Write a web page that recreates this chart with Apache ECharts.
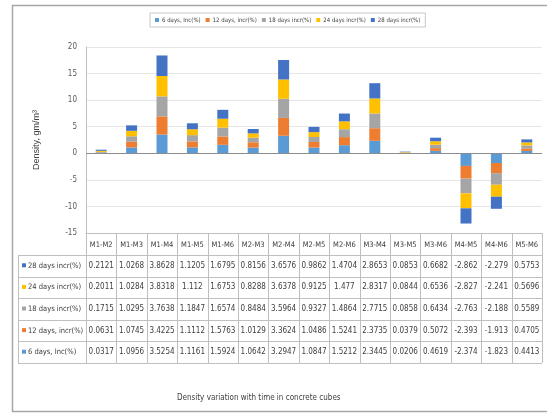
<!DOCTYPE html>
<html>
<head>
<meta charset="utf-8">
<script src="https://cdn.jsdelivr.net/npm/echarts@6/dist/echarts.min.js"></script>
<style>
  html, body { margin: 0; padding: 0; background: #fff; }
  #main { width: 547px; height: 416px; }
</style>
</head>
<body>
<div id="main"></div>
<script>
const categories = ['M1-M2', 'M1-M3', 'M1-M4', 'M1-M5', 'M1-M6', 'M2-M3', 'M2-M4', 'M2-M5',
  'M2-M6', 'M3-M4', 'M3-M5', 'M3-M6', 'M4-M5', 'M4-M6', 'M5-M6']
const seriesNames = ['6 days, Inc(%)', '12 days, incr(%)', '18 days incr(%)', '24 days incr(%)', '28 days incr(%)']
const days6 = [0.0317, 1.0956, 3.5254, 1.1161, 1.5924, 1.0642, 3.2947, 1.0847, 1.5212, 2.3445, 0.0206, 0.4619, -2.374, -1.823, 0.4413]
const days12 = [0.0631, 1.0745, 3.4225, 1.1112, 1.5763, 1.0129, 3.3624, 1.0486, 1.5241, 2.3735, 0.0379, 0.5072, -2.393, -1.913, 0.4705]
const days18 = [0.1715, 1.0295, 3.7638, 1.1847, 1.6574, 0.8484, 3.5964, 0.9327, 1.4864, 2.7715, 0.0858, 0.6434, -2.763, -2.188, 0.5589]
const days24 = [0.2011, 1.0284, 3.8318, 1.112, 1.6753, 0.8288, 3.6378, 0.9125, 1.477, 2.8317, 0.0844, 0.6536, -2.827, -2.241, 0.5696]
const days28 = [0.2121, 1.0268, 3.8628, 1.1205, 1.6795, 0.8156, 3.6576, 0.9862, 1.4704, 2.8653, 0.0853, 0.6682, -2.862, -2.279, 0.5753]
const yMin = -15
const yMax = 20
const yStep = 5

const seriesData = [days6, days12, days18, days24, days28]
const colors = ['#5B9BD5', '#ED7D31', '#A5A5A5', '#FFC000', '#4472C4']
const font = '"Liberation Sans Narrow", "DejaVu Sans Condensed", "Liberation Sans", sans-serif'

const chart = echarts.init(document.getElementById('main'))

const option = {
  animation: false,
  backgroundColor: '#fff',
  textStyle: { fontFamily: font },
  title: {
    text: 'Density variation with time in concrete cubes',
    left: 172,
    top: 389,
    textStyle: { fontSize: 8, fontWeight: 'normal', color: '#404040', fontFamily: font }
  },
  legend: {
    data: seriesNames,
    left: 150,
    top: 13,
    icon: 'rect',
    itemWidth: 4,
    itemHeight: 4,
    itemGap: 5,
    padding: [4, 5],
    borderColor: '#c8c8c8',
    borderWidth: 1,
    textStyle: { fontSize: 6, color: '#404040', fontFamily: font, padding: [0, 0, 0, -2] }
  },
  grid: { left: 86, right: 5, top: 47, bottom: 183 },
  xAxis: {
    type: 'category',
    data: categories,
    axisLine: { onZero: false, lineStyle: { color: '#bfbfbf' } },
    axisTick: { show: false },
    axisLabel: { interval: 0, margin: 8, fontSize: 7.5, color: '#404040', fontFamily: font }
  },
  yAxis: {
    type: 'value',
    min: yMin,
    max: yMax,
    interval: yStep,
    name: 'Density, gm/m³',
    nameLocation: 'middle',
    nameGap: 45,
    nameTextStyle: { fontSize: 9, color: '#404040', fontFamily: '"Liberation Sans", sans-serif' },
    axisLine: { show: true, lineStyle: { color: '#bfbfbf' } },
    axisTick: { show: false },
    axisLabel: { margin: 9, fontSize: 8, color: '#595959', fontFamily: font },
    splitLine: { lineStyle: { color: '#e6e6e6' } }
  },
  series: seriesNames.map((name, i) => ({
    name,
    type: 'bar',
    stack: 'total',
    barWidth: 11,
    data: seriesData[i],
    itemStyle: { color: colors[i] },
    markLine: i === 0 ? {
      silent: true,
      symbol: 'none',
      label: { show: false },
      lineStyle: { color: '#8c8c8c', type: 'solid', width: 1 },
      data: [{ yAxis: 0 }]
    } : undefined
  }))
}

chart.setOption(option)

// data table under the plot, aligned to the category columns
const x0 = chart.convertToPixel({ xAxisIndex: 0 }, categories[0])
const x1 = chart.convertToPixel({ xAxisIndex: 0 }, categories[1])
const colW = x1 - x0
const tLeft = x0 - colW / 2
const tRight = tLeft + colW * categories.length
const tTop = chart.convertToPixel({ yAxisIndex: 0 }, yMin)
const headH = 22
const rowH = 21.6
const labelLeft = 18
const tBottom = tTop + headH + rowH * 5
const lineStyle = { stroke: '#bfbfbf', lineWidth: 1 }
const graphics = []

graphics.push({
  type: 'rect',
  shape: { x: 12.5, y: 5.5, width: 560, height: 406 },
  style: { fill: null, stroke: '#a6a6a6', lineWidth: 1.5 },
  silent: true
})

for (let c = 0; c <= categories.length; c++) {
  const x = Math.round(tLeft + c * colW) + 0.5
  graphics.push({ type: 'line', shape: { x1: x, y1: tTop, x2: x, y2: tBottom }, style: lineStyle, silent: true })
}
graphics.push({ type: 'line', shape: { x1: labelLeft + 0.5, y1: tTop + headH, x2: labelLeft + 0.5, y2: tBottom }, style: lineStyle, silent: true })
for (let r = 0; r <= 5; r++) {
  const y = Math.round(tTop + headH + r * rowH) + 0.5
  graphics.push({ type: 'line', shape: { x1: labelLeft, y1: y, x2: tRight, y2: y }, style: lineStyle, silent: true })
}

// rows run from 28 days at the top down to 6 days
for (let r = 0; r < 5; r++) {
  const s = 4 - r
  const cy = tTop + headH + r * rowH + rowH / 2
  graphics.push({
    type: 'rect',
    shape: { x: labelLeft + 4, y: cy - 2.5, width: 4, height: 4 },
    style: { fill: colors[s] },
    silent: true
  })
  graphics.push({
    type: 'text',
    x: labelLeft + 10,
    y: cy,
    style: { text: seriesNames[s], fontSize: 7.5, fill: '#404040', fontFamily: font, verticalAlign: 'middle' },
    silent: true
  })
  seriesData[s].forEach((v, c) => {
    graphics.push({
      type: 'text',
      x: tLeft + c * colW + colW / 2,
      y: cy,
      style: { text: String(v), fontSize: 8, fill: '#404040', fontFamily: font, align: 'center', verticalAlign: 'middle' },
      silent: true
    })
  })
}

chart.setOption({ graphic: graphics })
</script>
</body>
</html>
